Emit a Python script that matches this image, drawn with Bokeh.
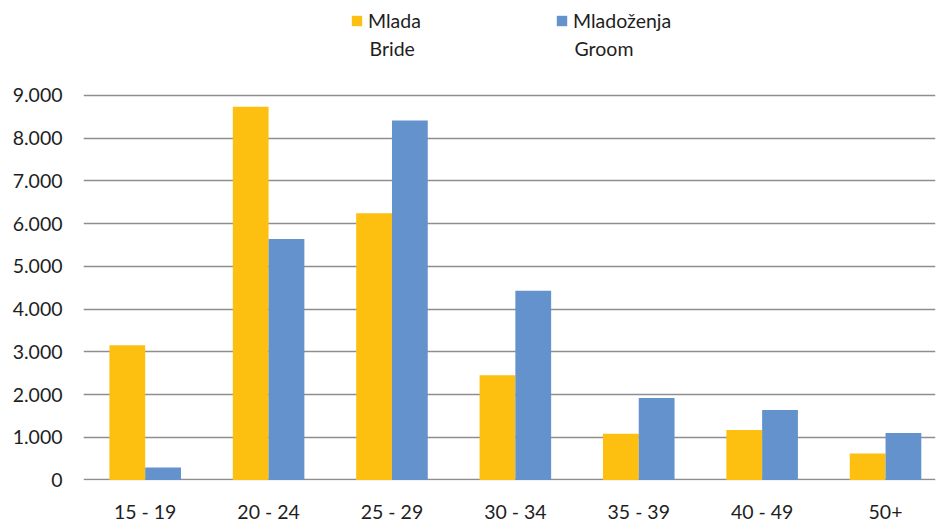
from bokeh.plotting import figure
from bokeh.models import (ColumnDataSource, Range1d, FixedTicker,
                          CustomJSTickFormatter, Legend, LegendItem, Label)
from bokeh.transform import dodge
from bokeh.embed import file_html
from bokeh.resources import INLINE

categories = ["15 - 19", "20 - 24", "25 - 29", "30 - 34", "35 - 39", "40 - 49", "50+"]
bride = [3150, 8730, 6240, 2450, 1080, 1170, 620]
groom = [290, 5640, 8410, 4430, 1920, 1640, 1100]
y_ticks = [0, 1000, 2000, 3000, 4000, 5000, 6000, 7000, 8000, 9000]
legend_top = ["Mlada", "Mladoženja"]
legend_bottom = ["Bride", "Groom"]

FONT = "Lato"
FS = "19.5px"
TXT = "#1E1E1E"
YELLOW = "#FDC011"
BLUE = "#6392CC"

# category slots: slot i is centred at i + 0.5
xpos = [i + 0.5 for i in range(len(categories))]
src = ColumnDataSource(dict(x=xpos, cat=categories, bride=bride, groom=groom))

# the original chart's plot area runs past the right edge of the picture
p = figure(width=936, height=525, output_backend="svg", toolbar_location=None,
           x_range=Range1d(0, 6.905),
           y_range=Range1d(-12, 11218),
           min_border_left=83, min_border_right=1, min_border_top=0, min_border_bottom=0)

r1 = p.vbar(x=dodge("x", -0.145), top="bride", width=0.29,
            source=src, color=YELLOW, line_color=None)
r2 = p.vbar(x=dodge("x", 0.145), top="groom", width=0.29,
            source=src, color=BLUE, line_color=None)

p.outline_line_color = None
p.xgrid.grid_line_color = None
p.ygrid.grid_line_color = "#8E8E8E"
p.ygrid.grid_line_width = 1.6
p.ygrid.ticker = FixedTicker(ticks=y_ticks)

p.xaxis.ticker = FixedTicker(ticks=xpos)
p.xaxis.major_label_overrides = {x: c for x, c in zip(xpos, categories)}
p.yaxis.ticker = FixedTicker(ticks=y_ticks)
p.yaxis.formatter = CustomJSTickFormatter(
    code='return tick.toString().replace(/\\B(?=(\\d{3})+(?!\\d))/g, ".");')
for ax in (p.xaxis, p.yaxis):
    ax.axis_label = None
    ax.axis_label_standoff = 0
    ax.axis_line_color = None
    ax.major_tick_line_color = None
    ax.minor_tick_line_color = None
    ax.major_tick_out = 0
    ax.major_tick_in = 0
    ax.minor_tick_out = 0
    ax.minor_tick_in = 0
    ax.major_label_text_font = FONT
    ax.major_label_text_font_size = FS
    ax.major_label_text_color = TXT
p.yaxis.major_label_standoff = 21
p.xaxis.major_label_standoff = 19

legend = Legend(items=[LegendItem(label=legend_top[0], renderers=[r1]),
                       LegendItem(label=legend_top[1], renderers=[r2])],
                orientation="horizontal", location=(267, 448),
                padding=0, margin=0, spacing=0,
                glyph_width=13, glyph_height=13, label_standoff=5, label_width=187,
                label_text_font=FONT, label_text_font_size=FS, label_text_color=TXT,
                border_line_color=None, background_fill_alpha=0)
p.add_layout(legend, "center")

for txt, x in zip(legend_bottom, (286, 491)):
    p.add_layout(Label(x=x, y=432, x_units="screen", y_units="screen", text=txt,
                       text_font=FONT, text_font_size=FS, text_color=TXT,
                       text_baseline="middle"))

open("out.html", "w").write(file_html(p, INLINE))
